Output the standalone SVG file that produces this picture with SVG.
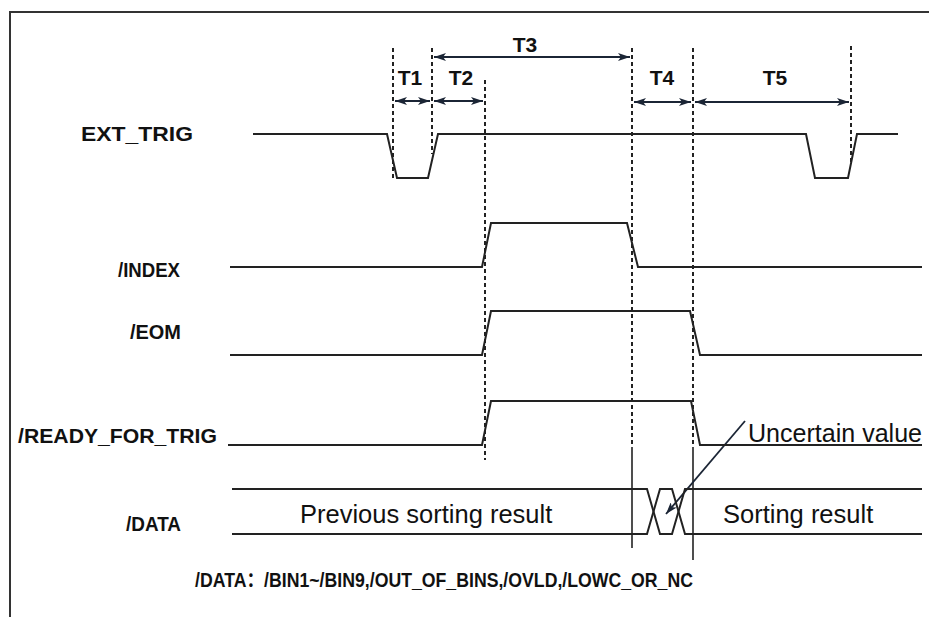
<svg xmlns="http://www.w3.org/2000/svg" width="929" height="617" viewBox="0 0 929 617">
<defs>
<marker id="ah" viewBox="0 0 12 8" refX="12" refY="4" markerWidth="12" markerHeight="8" markerUnits="userSpaceOnUse" orient="auto-start-reverse">
<path d="M0,0 L12,4 L0,8 L3,4 Z" fill="#1b2535"/>
</marker>
</defs>
<style>
.sig{fill:none;stroke:#222;stroke-width:2;stroke-linejoin:miter}
.dash{fill:none;stroke:#222;stroke-width:2;stroke-dasharray:4 3}
.solid{fill:none;stroke:#222;stroke-width:1.6}
.dim{fill:none;stroke:#1b2535;stroke-width:2}
.lbl{font-family:"Liberation Sans",Arial,"Noto Sans CJK SC",sans-serif;font-weight:bold;font-size:21px;fill:#111}
.foot{font-family:"Liberation Sans",Arial,"Noto Sans CJK SC",sans-serif;font-weight:bold;font-size:20px;fill:#111}
.tl{font-family:"Liberation Sans",Arial,sans-serif;font-weight:bold;font-size:21px;fill:#111;text-anchor:middle}
.txt{font-family:"Liberation Sans",Arial,sans-serif;font-size:25.5px;fill:#111}
</style>
<rect x="0" y="0" width="929" height="617" fill="#fff"/>
<path d="M10,617 L10,12 L929,12" fill="none" stroke="#333" stroke-width="2"/>

<g id="signal-names">
<text class="lbl" x="81" y="141" textLength="112" lengthAdjust="spacingAndGlyphs">EXT_TRIG</text>
<text class="lbl" x="118" y="277" textLength="62" lengthAdjust="spacingAndGlyphs">/INDEX</text>
<text class="lbl" x="130" y="339" textLength="51" lengthAdjust="spacingAndGlyphs">/EOM</text>
<text class="lbl" x="18" y="443" textLength="199" lengthAdjust="spacingAndGlyphs">/READY_FOR_TRIG</text>
<text class="lbl" x="126" y="531" textLength="55" lengthAdjust="spacingAndGlyphs">/DATA</text>
</g>

<g id="connectors">
<g id="guides">
<line class="dash" x1="393" y1="48" x2="393" y2="180"/>
<line class="dash" x1="432" y1="48" x2="432" y2="154"/>
<line class="dash" x1="485" y1="80" x2="485" y2="460"/>
<line class="dash" x1="632" y1="48" x2="632" y2="447"/>
<line class="solid" x1="632" y1="447" x2="632" y2="548"/>
<line class="dash" x1="693" y1="48" x2="693" y2="447"/>
<line class="solid" x1="693" y1="447" x2="693" y2="560"/>
<line class="dash" x1="851" y1="46" x2="851" y2="165"/>
</g>
<g id="dimensions">
<line class="dim" x1="434" y1="57" x2="630" y2="57" marker-start="url(#ah)" marker-end="url(#ah)"/>
<line class="dim" x1="395" y1="101" x2="430" y2="101" marker-start="url(#ah)" marker-end="url(#ah)"/>
<line class="dim" x1="434" y1="101" x2="483" y2="101" marker-start="url(#ah)" marker-end="url(#ah)"/>
<line class="dim" x1="634" y1="102" x2="691" y2="102" marker-start="url(#ah)" marker-end="url(#ah)"/>
<line class="dim" x1="695" y1="102" x2="849" y2="102" marker-start="url(#ah)" marker-end="url(#ah)"/>
</g>
<line id="uncertain-arrow" x1="745" y1="421" x2="666" y2="514" stroke="#1b2535" stroke-width="1.8" marker-end="url(#ah)"/>
</g>

<g id="time-labels">
<text class="tl" x="525" y="52">T3</text>
<text class="tl" x="410" y="85">T1</text>
<text class="tl" x="461" y="85">T2</text>
<text class="tl" x="662" y="85">T4</text>
<text class="tl" x="775" y="85">T5</text>
</g>

<g id="ext-trig">
<polyline class="sig" points="253,134 387,134 397,178 428,178 438,134 806,134 815,178 848,178 857,134 898,134"/>
</g>
<g id="index">
<polyline class="sig" points="230,267 482,267 491,223 627,223 638,267 922,267"/>
</g>
<g id="eom">
<polyline class="sig" points="230,355 482,355 491,311 690,311 700,355 922,355"/>
</g>
<g id="ready-for-trig">
<polyline class="sig" points="228,445 482,445 491,401 691,401 700,445 922,445"/>
</g>
<g id="data">
<polyline class="sig" points="232,489 647,489 660,534 672,534 685,489 922,489"/>
<polyline class="sig" points="232,534 647,534 660,489 672,489 685,534 922,534"/>
<text class="txt" x="300" y="523">Previous sorting result</text>
<text class="txt" x="723" y="523">Sorting result</text>
</g>
<g id="uncertain-label">
<text class="txt" x="748" y="442" textLength="174" lengthAdjust="spacingAndGlyphs">Uncertain value</text>
</g>
<g id="footnote">
<text class="foot" x="195" y="587" textLength="498" lengthAdjust="spacingAndGlyphs">/DATA：/BIN1~/BIN9,/OUT_OF_BINS,/OVLD,/LOWC_OR_NC</text>
</g>
</svg>
